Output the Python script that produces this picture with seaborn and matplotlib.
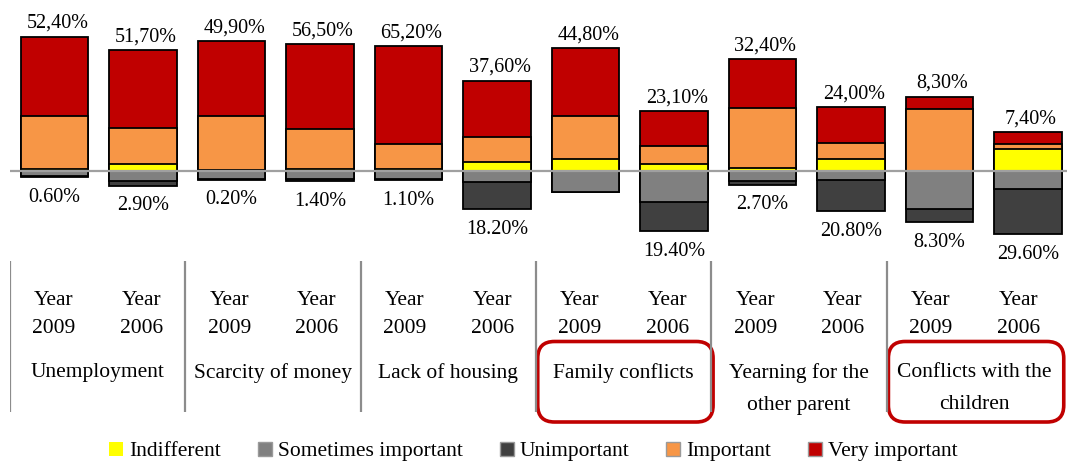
import numpy as np
import pandas as pd
import matplotlib
matplotlib.use("Agg")
import matplotlib.pyplot as plt
import seaborn as sns
from matplotlib.patches import Patch, FancyBboxPatch

# ---------------- data ----------------
categories = ["Unemployment", "Scarcity of money", "Lack of housing",
              "Family conflicts", "Yearning for the\nother parent",
              "Conflicts with the\nchildren"]
year_labels = ["Year\n2009", "Year\n2006"]
highlighted = ["Family conflicts", "Conflicts with the\nchildren"]

very_important = [52.4, 51.7, 49.9, 56.5, 65.2, 37.6, 44.8, 23.1, 32.4, 24.0, 8.3, 7.4]
important      = [35.1, 23.6, 35.5, 26.5, 16.6, 16.1, 28.9, 12.1, 39.5, 10.6, 40.9, 3.5]
indifferent    = [1.5, 4.6, 0.8, 1.0, 1.0, 6.2, 7.7, 4.6, 2.3, 7.7, 0.0, 14.6]
sometimes      = [3.6, 6.8, 5.5, 5.5, 5.0, 7.0, 13.7, 20.3, 6.4, 6.0, 25.4, 12.1]
unimportant    = [0.6, 2.9, 0.2, 1.4, 1.1, 18.2, 0.0, 19.4, 2.7, 20.8, 8.3, 29.6]

legend_labels = ["Indifferent", "Sometimes important", "Unimportant",
                 "Important", "Very important"]
colors = {"Indifferent": "#FFFF00", "Sometimes important": "#808080",
          "Unimportant": "#404040", "Important": "#F79646",
          "Very important": "#C00000"}

# ---------------- setup ----------------
sns.set_theme(style="white")
plt.rcParams['font.family'] = ['Liberation Serif', 'DejaVu Serif']
plt.rcParams['text.color'] = 'black'

W, H = 1067, 461
fig = plt.figure(figsize=(W / 100, H / 100), dpi=100)
fig.patch.set_facecolor('white')

slot_px = 88.5
ax_left = 10.25
ax = fig.add_axes([ax_left / W, (H - 255) / H, (W - ax_left) / W, 250 / H])

bar_ids = [f"{c}|{y}" for c in categories for y in year_labels]
df = pd.DataFrame({
    "bar": bar_ids,
    "vi": very_important, "im": important, "ind": indifferent,
    "so": sometimes, "un": unimportant,
})
df["pos_total"] = df["ind"] + df["im"] + df["vi"]
df["pos_mid"] = df["ind"] + df["im"]
df["pos_low"] = df["ind"]
df["neg_total"] = -(df["so"] + df["un"])
df["neg_low"] = -df["so"]

layers = [("pos_total", colors["Very important"]),
          ("pos_mid", colors["Important"]),
          ("pos_low", colors["Indifferent"]),
          ("neg_total", colors["Unimportant"]),
          ("neg_low", colors["Sometimes important"])]
for col, colr in layers:
    sns.barplot(data=df, x="bar", y=col, order=bar_ids, color=colr,
                saturation=1, width=0.76, edgecolor="black", linewidth=1.3,
                errorbar=None, ax=ax)

ax.axhline(0, color="#a0a0a0", lw=1.6, zorder=5)

# value labels
for i, row in df.iterrows():
    top = row["pos_total"]
    ax.annotate(f"{row['vi']:.2f}%".replace(".", ","), (i, top),
                xytext=(2, 9.5), textcoords="offset points",
                ha="center", va="center", fontsize=14.5, color="black")
    if row["un"] > 0:
        ax.annotate(f"{row['un']:.2f}%", (i, row["neg_total"]),
                    xytext=(0, -14.5), textcoords="offset points",
                    ha="center", va="center", fontsize=14.5, color="black")

ax.set_xlim(-0.5, -0.5 + (W - ax_left) / slot_px)
ax.set_ylim(-(255 - 171) / 1.51, (171 - 5) / 1.51)
ax.set_xlabel("")
ax.set_ylabel("")
ax.set_xticks([])
ax.set_yticks([])
for s in ax.spines.values():
    s.set_visible(False)
ax.patch.set_alpha(0)

# ---------------- category table ----------------
tax = fig.add_axes([10 / W, (H - 425) / H, 1052 / W, 170 / H])
tax.set_xlim(0, 12)
tax.set_ylim(0, 170)
tax.axis("off")

n_groups = len(categories)
tax.vlines([2 * g for g in range(n_groups)], 13, 164, color="#8c8c8c", lw=1.6)
for i in range(2 * n_groups):
    tax.text(i + 0.5, 425 - 314.5, year_labels[i % 2], ha="center", va="center",
             fontsize=15.5, linespacing=1.62)
aspect = (1052 / 12) / (170 / 170)
for g, cat in enumerate(categories):
    tax.text(2 * g + 1, 425 - 363, cat, ha="center", va="top", fontsize=15.5,
             linespacing=1.95)
    if cat in highlighted:
        box = FancyBboxPatch((2 * g + 0.02, 3), 2.0, 80.5,
                             boxstyle="round,pad=0,rounding_size=0.19",
                             mutation_aspect=aspect, fill=False,
                             edgecolor="#C00000", lw=2.6, clip_on=False)
        tax.add_patch(box)

# ---------------- legend ----------------
handles = []
for lab in legend_labels:
    ec = "none" if lab == "Indifferent" else "#9a9a9a"
    handles.append(Patch(facecolor=colors[lab], edgecolor=ec, lw=1.0))
fig.legend(handles, legend_labels, loc="center", bbox_to_anchor=(0.5, 9.5 / H),
           ncol=5, frameon=False, fontsize=15.5, handlelength=0.65,
           handleheight=0.65, handletextpad=0.28, columnspacing=1.72,
           borderaxespad=0, borderpad=0)

fig.savefig("out.png", dpi=100, facecolor="white")
